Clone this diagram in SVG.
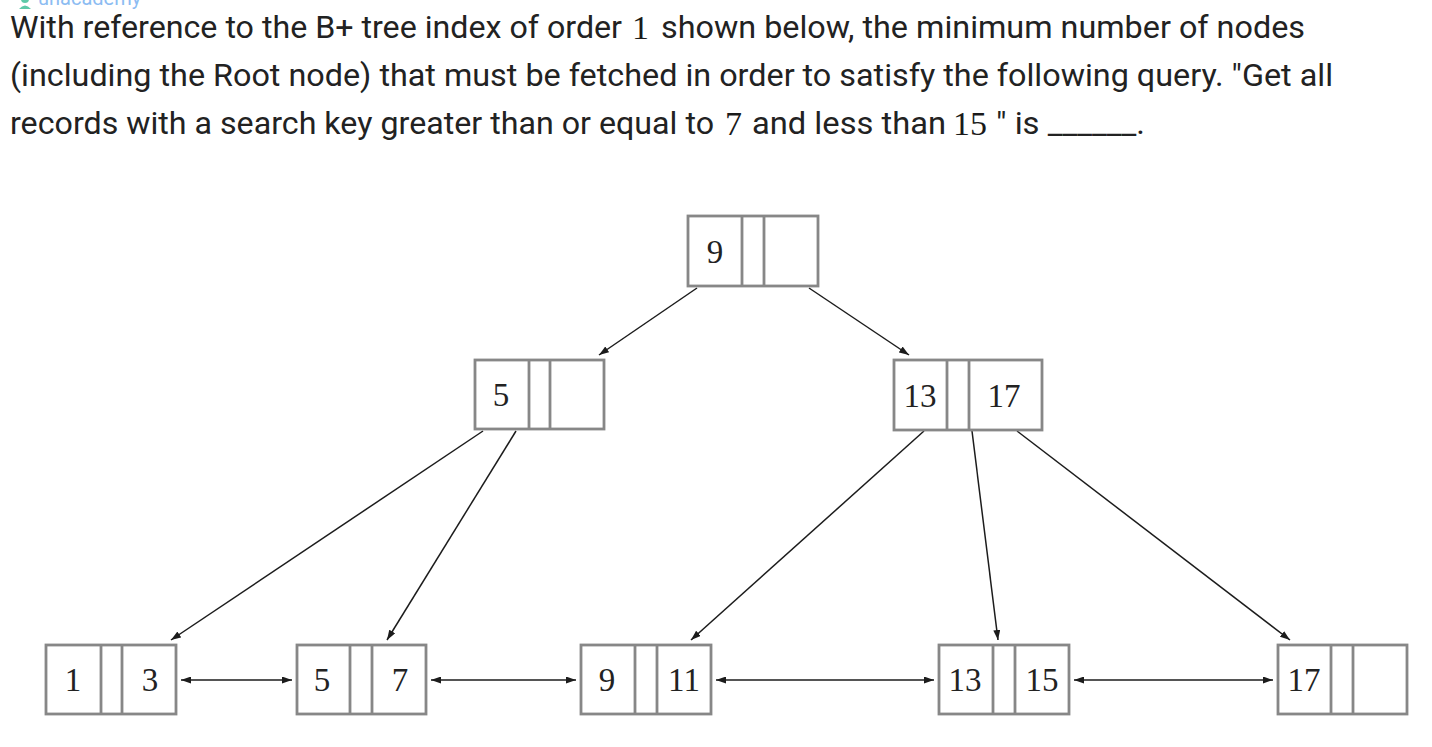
<svg xmlns="http://www.w3.org/2000/svg" width="1432" height="747" viewBox="0 0 1432 747">
  <style>
    .q { font-family: Roboto, "Liberation Sans", sans-serif; font-size: 31.5px; fill: #222; }
    .m { font-family: "Liberation Serif", serif; font-size: 34px; fill: #1a1a1a; }
    .box { fill: #fff; stroke: #878787; stroke-width: 2.8; }
    .div { stroke: #878787; stroke-width: 2.8; }
    .k { font-family: "Liberation Serif", "DejaVu Serif", serif; font-size: 33px; fill: #222; text-anchor: middle; }
    .edge { stroke: #1c1c1c; stroke-width: 1.5; fill: none; }
    .wm { font-family: Roboto, "Liberation Sans", sans-serif; font-size: 20px; fill: #8cbcf2; }
  </style>
  <defs>
    <marker id="ah" viewBox="0 0 10 7" refX="10" refY="3.5" markerWidth="10" markerHeight="7" markerUnits="userSpaceOnUse" orient="auto-start-reverse">
      <path d="M0,0 L10,3.5 L0,7 z" fill="#1c1c1c"/>
    </marker>
  </defs>
  <rect width="1432" height="747" fill="#fff"/>

  <!-- watermark -->
  <g id="watermark">
    <circle cx="25" cy="-1" r="4" fill="#5ec9a8"/>
    <path d="M19,9 Q25,2 31,9 z" fill="#5ec9a8"/>
    <text class="wm" x="38" y="5">unacademy</text>
  </g>

  <!-- question text -->
  <g id="question">
    <text class="q" x="10" y="38" textLength="612" lengthAdjust="spacingAndGlyphs">With reference to the B+ tree index of order</text>
    <text class="m" x="632" y="39">1</text>
    <text class="q" x="661" y="38" textLength="644" lengthAdjust="spacingAndGlyphs">shown below, the minimum number of nodes</text>
    <text class="q" x="10" y="86" textLength="1323" lengthAdjust="spacingAndGlyphs">(including the Root node) that must be fetched in order to satisfy the following query. "Get all</text>
    <text class="q" x="10" y="134" textLength="704" lengthAdjust="spacingAndGlyphs">records with a search key greater than or equal to</text>
    <text class="m" x="725" y="135">7</text>
    <text class="q" x="752" y="134" textLength="194" lengthAdjust="spacingAndGlyphs">and less than</text>
    <text class="m" x="953" y="135">15</text>
    <text class="q" x="996" y="134" textLength="149" lengthAdjust="spacingAndGlyphs">" is ______.</text>
  </g>

  <!-- connectors -->
  <g id="connectors">
    <line class="edge" x1="697" y1="288" x2="599" y2="355" marker-end="url(#ah)"/>
    <line class="edge" x1="809" y1="288" x2="909" y2="355" marker-end="url(#ah)"/>
    <line class="edge" x1="483" y1="431" x2="171" y2="640" marker-end="url(#ah)"/>
    <line class="edge" x1="516" y1="431" x2="387" y2="640" marker-end="url(#ah)"/>
    <line class="edge" x1="924" y1="431" x2="691" y2="640" marker-end="url(#ah)"/>
    <line class="edge" x1="972" y1="431" x2="998" y2="640" marker-end="url(#ah)"/>
    <line class="edge" x1="1017" y1="431" x2="1290" y2="640" marker-end="url(#ah)"/>
    <line class="edge" x1="181" y1="680" x2="292" y2="680" marker-start="url(#ah)" marker-end="url(#ah)"/>
    <line class="edge" x1="431" y1="680" x2="576" y2="680" marker-start="url(#ah)" marker-end="url(#ah)"/>
    <line class="edge" x1="716" y1="680" x2="934" y2="680" marker-start="url(#ah)" marker-end="url(#ah)"/>
    <line class="edge" x1="1074" y1="680" x2="1273" y2="680" marker-start="url(#ah)" marker-end="url(#ah)"/>
  </g>

  <!-- root -->
  <g id="root">
    <rect class="box" x="688" y="216" width="130" height="70"/>
    <line class="div" x1="742" y1="216" x2="742" y2="286"/>
    <line class="div" x1="764" y1="216" x2="764" y2="286"/>
    <text class="k" x="715" y="263">9</text>
  </g>

  <g id="inner5">
    <rect class="box" x="475" y="360" width="129" height="69"/>
    <line class="div" x1="529" y1="360" x2="529" y2="429"/>
    <line class="div" x1="550" y1="360" x2="550" y2="429"/>
    <text class="k" x="501" y="406">5</text>
  </g>

  <g id="inner13_17">
    <rect class="box" x="894" y="360" width="148" height="70"/>
    <line class="div" x1="947" y1="360" x2="947" y2="430"/>
    <line class="div" x1="969" y1="360" x2="969" y2="430"/>
    <text class="k" x="920" y="407">13</text>
    <text class="k" x="1004" y="407">17</text>
  </g>

  <g id="leaf1_3">
    <rect class="box" x="46" y="645" width="130" height="69"/>
    <line class="div" x1="101" y1="645" x2="101" y2="714"/>
    <line class="div" x1="122" y1="645" x2="122" y2="714"/>
    <text class="k" x="73" y="691">1</text>
    <text class="k" x="150" y="691">3</text>
  </g>

  <g id="leaf5_7">
    <rect class="box" x="297" y="645" width="129" height="69"/>
    <line class="div" x1="350" y1="645" x2="350" y2="714"/>
    <line class="div" x1="372" y1="645" x2="372" y2="714"/>
    <text class="k" x="322" y="691">5</text>
    <text class="k" x="400" y="691">7</text>
  </g>

  <g id="leaf9_11">
    <rect class="box" x="581" y="645" width="130" height="69"/>
    <line class="div" x1="635" y1="645" x2="635" y2="714"/>
    <line class="div" x1="657" y1="645" x2="657" y2="714"/>
    <text class="k" x="607" y="691">9</text>
    <text class="k" x="684" y="691">11</text>
  </g>

  <g id="leaf13_15">
    <rect class="box" x="939" y="645" width="130" height="69"/>
    <line class="div" x1="993" y1="645" x2="993" y2="714"/>
    <line class="div" x1="1015" y1="645" x2="1015" y2="714"/>
    <text class="k" x="965" y="691">13</text>
    <text class="k" x="1042" y="691">15</text>
  </g>

  <g id="leaf17">
    <rect class="box" x="1278" y="645" width="129" height="69"/>
    <line class="div" x1="1331" y1="645" x2="1331" y2="714"/>
    <line class="div" x1="1353" y1="645" x2="1353" y2="714"/>
    <text class="k" x="1304" y="691">17</text>
  </g>
</svg>
